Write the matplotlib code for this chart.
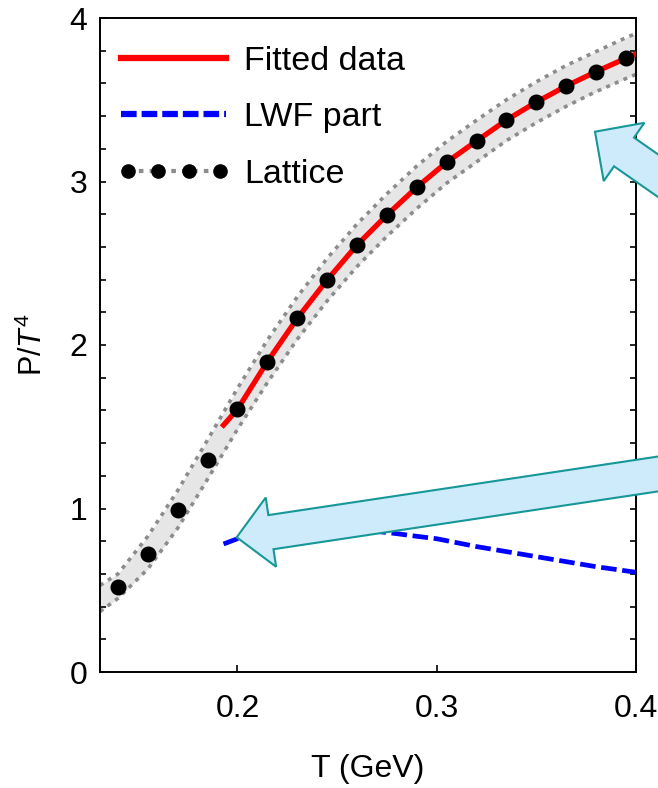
import matplotlib
matplotlib.use("Agg")
import matplotlib.pyplot as plt
import matplotlib.patches as patches
from matplotlib.lines import Line2D
from matplotlib.legend_handler import HandlerLine2D
from matplotlib.ticker import MultipleLocator

plt.rcParams['font.family'] = ['Liberation Sans', 'DejaVu Sans']
plt.rcParams['mathtext.fontset'] = 'custom'
plt.rcParams['mathtext.rm'] = 'Liberation Sans'
plt.rcParams['mathtext.it'] = 'Liberation Sans:italic'

# lattice points
lat_T = [0.14, 0.155, 0.17, 0.185, 0.2, 0.215, 0.23, 0.245, 0.26, 0.275,
         0.29, 0.305, 0.32, 0.335, 0.35, 0.365, 0.38, 0.395]
lat_P = [0.522, 0.72, 0.99, 1.297, 1.607, 1.898, 2.163, 2.398, 2.612, 2.795,
         2.965, 3.118, 3.248, 3.376, 3.486, 3.584, 3.672, 3.754]

# error band around lattice
band_T = [0.131] + lat_T + [0.4]
band_hi = [0.53, 0.60, 0.83, 1.11, 1.42, 1.735, 2.03, 2.295, 2.53, 2.74, 2.925,
           3.095, 3.245, 3.375, 3.50, 3.61, 3.71, 3.795, 3.88, 3.905]
band_lo = [0.37, 0.45, 0.63, 0.88, 1.18, 1.485, 1.77, 2.035, 2.27, 2.48, 2.665,
           2.835, 2.99, 3.12, 3.25, 3.36, 3.46, 3.55, 3.63, 3.655]

# fitted curve
fit_T = [0.193, 0.2, 0.215, 0.23, 0.245, 0.26, 0.275, 0.29, 0.305, 0.32,
         0.335, 0.35, 0.365, 0.38, 0.395, 0.4]
fit_P = [1.51, 1.607, 1.898, 2.163, 2.398, 2.612, 2.795, 2.965, 3.118, 3.248,
         3.376, 3.486, 3.584, 3.672, 3.754, 3.78]

# LWF part
lwf_T = [0.193, 0.2, 0.21, 0.22, 0.23, 0.24, 0.25, 0.26, 0.27, 0.28, 0.29,
         0.3, 0.32, 0.34, 0.36, 0.38, 0.4]
lwf_P = [0.783, 0.815, 0.845, 0.863, 0.873, 0.878, 0.877, 0.87, 0.86, 0.846,
         0.83, 0.815, 0.767, 0.726, 0.685, 0.644, 0.61]

fig = plt.figure(figsize=(6.58, 7.88), dpi=100)
ax = fig.add_axes([100 / 658, 1 - 672 / 788, 536 / 658, 654 / 788])

band_gray = '#8c8c8c'
ax.fill_between(band_T, band_lo, band_hi, color='#e6e6e6', lw=0, zorder=1)
ax.plot(band_T, band_hi, color=band_gray, lw=2.6, dashes=(1.1, 1.5), zorder=2)
ax.plot(band_T, band_lo, color=band_gray, lw=2.6, dashes=(1.1, 1.5), zorder=2)
ax.plot(fit_T, fit_P, color='red', lw=3.8, zorder=3)
ax.plot(lwf_T, lwf_P, color='blue', lw=3.4, dashes=(3.3, 1.2), zorder=3)
ax.plot(lat_T, lat_P, 'o', color='black', ms=10.5, zorder=4)

ax.set_xlim(0.131, 0.4)
ax.set_ylim(0, 4)
ax.set_xticks([0.2, 0.3, 0.4])
ax.set_xticklabels(['0.2', '0.3', '0.4'])
ax.set_yticks([0, 1, 2, 3, 4])
ax.yaxis.set_minor_locator(MultipleLocator(0.2))
ax.tick_params(axis='both', which='both', direction='in', width=1.2,
               labelsize=23)
ax.tick_params(axis='y', which='both', right=True, length=4, pad=9)
ax.tick_params(axis='x', which='major', length=5, pad=16)
for sp in ax.spines.values():
    sp.set_linewidth(1.4)

ax.set_xlabel('T (GeV)', fontsize=23)
ax.xaxis.set_label_coords(0.5, -0.125)
ax.set_ylabel('P/$T^4$', fontsize=22)
ax.yaxis.set_label_coords(-0.095, 0.5)

lattice_handle = Line2D([], [], color=band_gray, lw=3, dashes=(1.1, 1.5),
                        marker='o', mfc='black', mec='black', ms=9.5)
handles = [
    Line2D([], [], color='red', lw=4.5),
    Line2D([], [], color='blue', lw=4.5, dashes=(2.5, 0.8)),
    lattice_handle,
]
ax.legend(handles, ['Fitted data', 'LWF part', 'Lattice'], loc='upper left',
          bbox_to_anchor=(-0.013, 0.985),
          frameon=False, fontsize=24.5, handlelength=3.7, handletextpad=0.22,
          labelspacing=0.75, borderaxespad=0.12, numpoints=4,
          handler_map={lattice_handle: HandlerLine2D(marker_pad=0.5)})

# callout arrows, positioned in inches on the figure
def px(x, y):
    return x / 100, (788 - y) / 100

arrow_style = dict(fc='#cdebfa', ec='#179797', lw=1.5, zorder=10,
                   length_includes_head=True, clip_on=False,
                   transform=fig.dpi_scale_trans)
tip1 = px(595, 131.7)
tail1 = px(718, 217.5)
fig.add_artist(patches.FancyArrow(tail1[0], tail1[1], tip1[0] - tail1[0],
                                  tip1[1] - tail1[1], width=0.35,
                                  head_width=0.71, head_length=0.354,
                                  **arrow_style))
tip2 = px(236.7, 537.3)
tail2 = px(731, 463)
fig.add_artist(patches.FancyArrow(tail2[0], tail2[1], tip2[0] - tail2[0],
                                  tip2[1] - tail2[1], width=0.345,
                                  head_width=0.70, head_length=0.346,
                                  **arrow_style))

fig.savefig('out.png', dpi=100)
